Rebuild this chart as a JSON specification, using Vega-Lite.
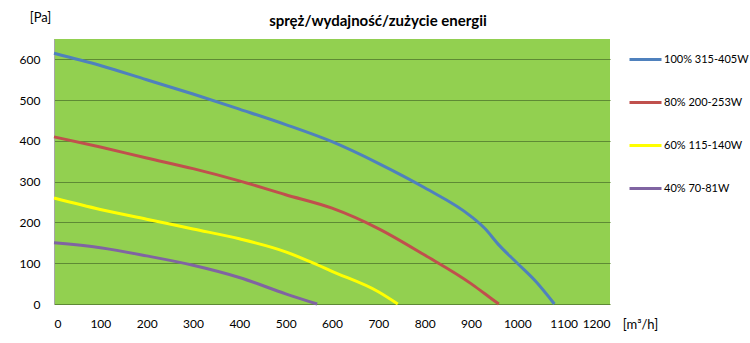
{
  "$schema": "https://vega.github.io/schema/vega-lite/v6.json",
  "width": 556,
  "height": 265,
  "autosize": "none",
  "padding": {"left": 54, "top": 39, "right": 140, "bottom": 39},
  "background": "white",
  "config": {
    "font": "Lato",
    "view": {"fill": "#92D050", "stroke": null}
  },
  "title": {
    "text": "spręż/wydajność/zużycie energii",
    "anchor": "middle",
    "fontSize": 15,
    "fontWeight": "bold",
    "color": "#000000",
    "offset": -18,
    "dx": 46
  },
  "data": {
    "values": [
      {"series": "100% 315-405W", "flow": 0, "pressure": 615},
      {"series": "100% 315-405W", "flow": 100, "pressure": 585},
      {"series": "100% 315-405W", "flow": 200, "pressure": 550},
      {"series": "100% 315-405W", "flow": 300, "pressure": 515},
      {"series": "100% 315-405W", "flow": 400, "pressure": 478},
      {"series": "100% 315-405W", "flow": 500, "pressure": 440},
      {"series": "100% 315-405W", "flow": 600, "pressure": 398},
      {"series": "100% 315-405W", "flow": 700, "pressure": 345},
      {"series": "100% 315-405W", "flow": 800, "pressure": 285},
      {"series": "100% 315-405W", "flow": 900, "pressure": 215},
      {"series": "100% 315-405W", "flow": 930, "pressure": 185},
      {"series": "100% 315-405W", "flow": 960, "pressure": 145},
      {"series": "100% 315-405W", "flow": 1000, "pressure": 100},
      {"series": "100% 315-405W", "flow": 1040, "pressure": 55},
      {"series": "100% 315-405W", "flow": 1080, "pressure": 0},
      {"series": "80% 200-253W", "flow": 0, "pressure": 410},
      {"series": "80% 200-253W", "flow": 100, "pressure": 385},
      {"series": "80% 200-253W", "flow": 200, "pressure": 358},
      {"series": "80% 200-253W", "flow": 300, "pressure": 332},
      {"series": "80% 200-253W", "flow": 400, "pressure": 302},
      {"series": "80% 200-253W", "flow": 500, "pressure": 268},
      {"series": "80% 200-253W", "flow": 600, "pressure": 235},
      {"series": "80% 200-253W", "flow": 700, "pressure": 185},
      {"series": "80% 200-253W", "flow": 800, "pressure": 120},
      {"series": "80% 200-253W", "flow": 900, "pressure": 50},
      {"series": "80% 200-253W", "flow": 930, "pressure": 25},
      {"series": "80% 200-253W", "flow": 960, "pressure": 0},
      {"series": "60% 115-140W", "flow": 0, "pressure": 260},
      {"series": "60% 115-140W", "flow": 100, "pressure": 232},
      {"series": "60% 115-140W", "flow": 200, "pressure": 208},
      {"series": "60% 115-140W", "flow": 300, "pressure": 184},
      {"series": "60% 115-140W", "flow": 400, "pressure": 160},
      {"series": "60% 115-140W", "flow": 500, "pressure": 128},
      {"series": "60% 115-140W", "flow": 550, "pressure": 105},
      {"series": "60% 115-140W", "flow": 600, "pressure": 80},
      {"series": "60% 115-140W", "flow": 700, "pressure": 30},
      {"series": "60% 115-140W", "flow": 742, "pressure": 0},
      {"series": "40% 70-81W", "flow": 0, "pressure": 150},
      {"series": "40% 70-81W", "flow": 100, "pressure": 138},
      {"series": "40% 70-81W", "flow": 200, "pressure": 118},
      {"series": "40% 70-81W", "flow": 300, "pressure": 95},
      {"series": "40% 70-81W", "flow": 400, "pressure": 65},
      {"series": "40% 70-81W", "flow": 500, "pressure": 25},
      {"series": "40% 70-81W", "flow": 568, "pressure": 0}
    ]
  },
  "mark": {"type": "line", "strokeWidth": 3, "interpolate": "monotone"},
  "encoding": {
    "x": {
      "field": "flow",
      "type": "quantitative",
      "scale": {"domain": [0, 1200], "nice": false},
      "axis": {
        "values": [0, 100, 200, 300, 400, 500, 600, 700, 800, 900, 1000, 1100, 1200],
        "format": "d",
        "grid": false,
        "domain": false,
        "ticks": false,
        "labelPadding": 14,
        "labelFontSize": 12,
        "labelColor": "#000000",
        "title": "[m³/h]",
        "titleFontSize": 13,
        "titleFontWeight": "normal",
        "titleColor": "#000000",
        "titleX": 586,
        "titleY": 14,
        "titleAlign": "center",
        "titleBaseline": "top"
      }
    },
    "y": {
      "field": "pressure",
      "type": "quantitative",
      "scale": {"domain": [0, 650], "nice": false},
      "axis": {
        "values": [0, 100, 200, 300, 400, 500, 600],
        "grid": true,
        "gridColor": "#5E8A35",
        "gridWidth": 1,
        "domain": true,
        "domainColor": "#A6A6A6",
        "ticks": false,
        "labelPadding": 14,
        "labelFontSize": 12,
        "labelColor": "#000000",
        "title": "[Pa]",
        "titleAngle": 0,
        "titleFontSize": 13,
        "titleFontWeight": "normal",
        "titleColor": "#000000",
        "titleX": -14,
        "titleY": -18,
        "titleAlign": "center",
        "titleBaseline": "alphabetic"
      }
    },
    "color": {
      "field": "series",
      "type": "nominal",
      "scale": {
        "domain": ["100% 315-405W", "80% 200-253W", "60% 115-140W", "40% 70-81W"],
        "range": ["#4F81BD", "#C0504D", "#FFFF00", "#8064A2"]
      },
      "legend": {
        "title": null,
        "orient": "none",
        "legendX": 574,
        "legendY": 3,
        "symbolType": "stroke",
        "symbolSize": 1024,
        "symbolStrokeWidth": 3,
        "labelOffset": 1,
        "labelFontSize": 11,
        "labelColor": "#000000",
        "rowPadding": 19
      }
    }
  }
}
